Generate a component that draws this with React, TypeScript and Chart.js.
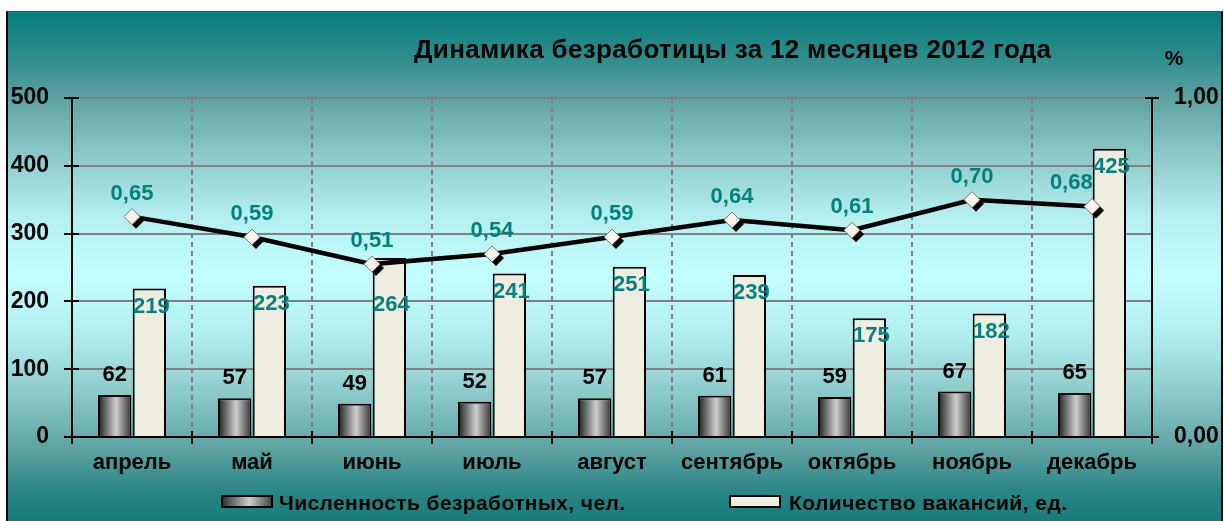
import { useEffect, useRef } from "react";
import { Chart, registerables } from "chart.js";

Chart.register(...registerables);

const months = ["апрель", "май", "июнь", "июль", "август", "сентябрь", "октябрь", "ноябрь", "декабрь"];
const unemployed = [62, 57, 49, 52, 57, 61, 59, 67, 65];
const vacancies = [219, 223, 264, 241, 251, 239, 175, 182, 425];
const rate = [0.65, 0.59, 0.51, 0.54, 0.59, 0.64, 0.61, 0.7, 0.68];
const leftTicks = [0, 100, 200, 300, 400, 500];
const rightTicks = [0, 1];
const seriesNames = ["Численность безработных, чел.", "Количество вакансий, ед.", "Уровень безработицы, %"];
const titleText = "Динамика безработицы за 12 месяцев 2012 года";
const rightUnit = "%";

const FONT = '"Liberation Sans", Arial, Helvetica, sans-serif';
const NARROW = '"Liberation Sans Narrow", "Arial Narrow", "Liberation Sans", Arial, sans-serif';
const TEAL = "#008080";
const CREAM = "#efece1";

const fmtPct = (v: number) => v.toFixed(2).replace(".", ",");

function grayGradient(ctx: CanvasRenderingContext2D, x0: number, x1: number) {
  const g = ctx.createLinearGradient(x0, 0, x1, 0);
  g.addColorStop(0, "#333333");
  g.addColorStop(0.55, "#cfcfcf");
  g.addColorStop(1, "#474747");
  return g;
}

function diamond(ctx: CanvasRenderingContext2D, x: number, y: number, r: number) {
  ctx.beginPath();
  ctx.moveTo(x - r, y);
  ctx.lineTo(x, y - r);
  ctx.lineTo(x + r, y);
  ctx.lineTo(x, y + r);
  ctx.closePath();
}

function fitText(ctx: CanvasRenderingContext2D, text: string, width: number) {
  (ctx as any).letterSpacing = "0px";
  const w = ctx.measureText(text).width;
  const sp = (width - w) / Math.max(1, text.length - 1);
  (ctx as any).letterSpacing = sp.toFixed(2) + "px";
}

const decorPlugin = {
  id: "decor",
  beforeDatasetsDraw(chart: any) {
    const ctx: CanvasRenderingContext2D = chart.ctx;
    const { x, y, y1 } = chart.scales;
    ctx.save();
    ctx.strokeStyle = "#000";
    ctx.lineWidth = 2;
    ctx.beginPath();
    leftTicks.forEach((v) => {
      const py = Math.round(y.getPixelForValue(v));
      ctx.moveTo(y.right - 8, py);
      ctx.lineTo(y.right + 7, py);
    });
    rightTicks.forEach((v) => {
      const py = Math.round(y1.getPixelForValue(v));
      ctx.moveTo(y1.left - 7, py);
      ctx.lineTo(y1.left + 7, py);
    });
    for (let i = 0; i <= months.length; i++) {
      const px = Math.round(x.getPixelForValue(i - 0.5));
      ctx.moveTo(px, x.top - 6);
      ctx.lineTo(px, x.top + 7);
    }
    ctx.stroke();
    ctx.restore();
  },
  beforeDatasetDraw(chart: any, args: any) {
    if (args.index !== 2) return;
    const ctx: CanvasRenderingContext2D = chart.ctx;
    const meta = chart.getDatasetMeta(2);
    ctx.save();
    ctx.fillStyle = "#000";
    meta.data.forEach((p: any) => {
      diamond(ctx, p.x + 4, p.y + 4, 8);
      ctx.fill();
    });
    ctx.restore();
  },
  afterDatasetDraw(chart: any, args: any) {
    if (args.index !== 0) return;
    const ctx: CanvasRenderingContext2D = chart.ctx;
    const meta = chart.getDatasetMeta(0);
    ctx.save();
    meta.data.forEach((b: any) => {
      const { x, y, base, width } = b.getProps(["x", "y", "base", "width"], true);
      const l = x - width / 2;
      ctx.fillStyle = grayGradient(ctx, l + 2, l + width - 2);
      ctx.fillRect(l + 2, y + 2, width - 4, base - y - 2);
    });
    ctx.restore();
  },
  afterDatasetsDraw(chart: any) {
    const ctx: CanvasRenderingContext2D = chart.ctx;
    const m0 = chart.getDatasetMeta(0);
    const m1 = chart.getDatasetMeta(1);
    const m2 = chart.getDatasetMeta(2);
    ctx.save();
    ctx.font = `bold 22px ${FONT}`;
    ctx.textAlign = "center";
    ctx.textBaseline = "alphabetic";
    ctx.fillStyle = "#000";
    m0.data.forEach((b: any, i: number) => {
      ctx.fillText(String(unemployed[i]), b.x, b.y - 14);
    });
    ctx.fillStyle = TEAL;
    m1.data.forEach((b: any, i: number) => {
      let base = b.y + 24;
      const p = m2.data[i];
      if (Math.abs(base - 8 - p.y) < 25) base = p.y + 47;
      ctx.fillText(String(vacancies[i]), b.x + 2, base);
    });
    m2.data.forEach((p: any, i: number) => {
      const t = fmtPct(rate[i]);
      const w = ctx.measureText(t).width;
      let cx = p.x;
      const bar = m1.data[i];
      const barLeft = bar.x - bar.width / 2;
      if (cx + w / 2 > barLeft && p.y - 17 > bar.y) cx = barLeft - w / 2;
      ctx.fillText(t, cx, p.y - 17);
    });
    ctx.restore();
  },
  afterDraw(chart: any) {
    const ctx: CanvasRenderingContext2D = chart.ctx;
    ctx.save();
    ctx.fillStyle = "#000";
    ctx.font = `bold 26px ${NARROW}`;
    ctx.textAlign = "left";
    ctx.textBaseline = "alphabetic";
    fitText(ctx, titleText, 637);
    ctx.fillText(titleText, 406, 46);
    (ctx as any).letterSpacing = "0px";
    ctx.font = `bold 21px ${FONT}`;
    ctx.textAlign = "center";
    ctx.fillText(rightUnit, 1166, 53);
    const items = [
      { bx: 213, tx: 271, w: 346, gray: true, label: chart.data.datasets[0].label },
      { bx: 721, tx: 781, w: 278, gray: false, label: chart.data.datasets[1].label },
    ];
    const by = 483;
    items.forEach((it) => {
      ctx.fillStyle = "#000";
      ctx.fillRect(it.bx, by, 52, 13);
      ctx.fillStyle = it.gray ? grayGradient(ctx, it.bx + 2, it.bx + 50) : CREAM;
      ctx.fillRect(it.bx + 2, by + 2, 48, 9);
      ctx.fillStyle = "#000";
      ctx.font = `bold 21px ${FONT}`;
      ctx.textAlign = "left";
      ctx.textBaseline = "alphabetic";
      fitText(ctx, it.label, it.w);
      ctx.fillText(it.label, it.tx, by + 15);
      (ctx as any).letterSpacing = "0px";
    });
    ctx.restore();
  },
};

export default function App() {
  const ref = useRef<HTMLCanvasElement | null>(null);

  useEffect(() => {
    if (!ref.current) return;
    const chart = new Chart(ref.current, {
      type: "bar",
      data: {
        labels: months,
        datasets: [
          {
            type: "bar",
            label: seriesNames[0],
            data: unemployed,
            backgroundColor: "#9a9a9a",
            borderColor: "#000",
            borderWidth: 2,
            borderSkipped: "bottom",
            categoryPercentage: 0.578,
            barPercentage: 0.96,
            yAxisID: "y",
            order: 2,
          },
          {
            type: "bar",
            label: seriesNames[1],
            data: vacancies,
            backgroundColor: CREAM,
            borderColor: "#000",
            borderWidth: 2,
            borderSkipped: "bottom",
            categoryPercentage: 0.578,
            barPercentage: 0.96,
            yAxisID: "y",
            order: 2,
          },
          {
            type: "line",
            label: seriesNames[2],
            data: rate,
            borderColor: "#000",
            borderWidth: 4.5,
            tension: 0,
            pointStyle: "rectRot",
            pointRadius: 8,
            pointBackgroundColor: "#f6f4ec",
            pointBorderColor: "#777",
            pointBorderWidth: 1,
            yAxisID: "y1",
            order: 0,
          } as any,
        ],
      },
      options: {
        responsive: false,
        animation: false,
        devicePixelRatio: 1,
        layout: { padding: { top: 86, left: 0, right: 0, bottom: 0 } },
        plugins: {
          legend: { display: false },
          title: { display: false },
          tooltip: { enabled: false },
        },
        scales: {
          x: {
            grid: {
              offset: true,
              drawTicks: false,
              lineWidth: 2,
              color: (c: any) =>
                c.index === 0 || c.index === months.length ? "rgba(0,0,0,0)" : "#808080",
            },
            border: { display: true, color: "#000", width: 2, dash: [5, 4] },
            ticks: {
              color: "#000",
              font: { family: FONT, size: 22, weight: "bold" },
              padding: 13,
              maxRotation: 0,
              autoSkip: false,
            },
            afterFit: (s: any) => {
              s.height = 84;
            },
          },
          y: {
            position: "left",
            min: 0,
            max: 500,
            afterBuildTicks: (s: any) => {
              s.ticks = leftTicks.map((v) => ({ value: v }));
            },
            grid: { color: "#808080", lineWidth: 2, drawTicks: false },
            border: { display: true, color: "#000", width: 2 },
            ticks: {
              color: "#000",
              font: { family: FONT, size: 23, weight: "bold" },
              padding: 23,
              callback: (v: any) => String(v),
            },
            afterFit: (s: any) => {
              s.width = 64;
            },
          },
          y1: {
            position: "right",
            min: 0,
            max: 1,
            afterBuildTicks: (s: any) => {
              s.ticks = rightTicks.map((v) => ({ value: v }));
            },
            grid: { drawOnChartArea: false, drawTicks: false },
            border: { display: true, color: "#000", width: 2 },
            ticks: {
              color: "#000",
              font: { family: FONT, size: 23, weight: "bold" },
              padding: 22,
              callback: (v: any) => fmtPct(Number(v)),
            },
            afterFit: (s: any) => {
              s.width = 69;
            },
          },
        },
      } as any,
      plugins: [decorPlugin],
    });
    return () => chart.destroy();
  }, []);

  return (
    <div
      style={{
        position: "absolute",
        left: 6,
        top: 11,
        width: 1217,
        height: 510,
        boxSizing: "border-box",
        borderLeft: "2px solid #000",
        borderRight: "2px solid #000",
        borderTop: "1px solid #0a6e6e",
        background:
          "linear-gradient(to bottom, #077e7e 0%, #2f8c8c 9%, #5fa2a2 17%, #8cc8c8 28%, #b4eeee 40%, #c4ffff 52%, #b0ecec 64%, #88c6c6 76%, #5ea2a2 86%, #2c8686 94%, #197a7a 100%)",
      }}
    >
      <canvas ref={ref} width={1213} height={509} style={{ display: "block" }} />
    </div>
  );
}
